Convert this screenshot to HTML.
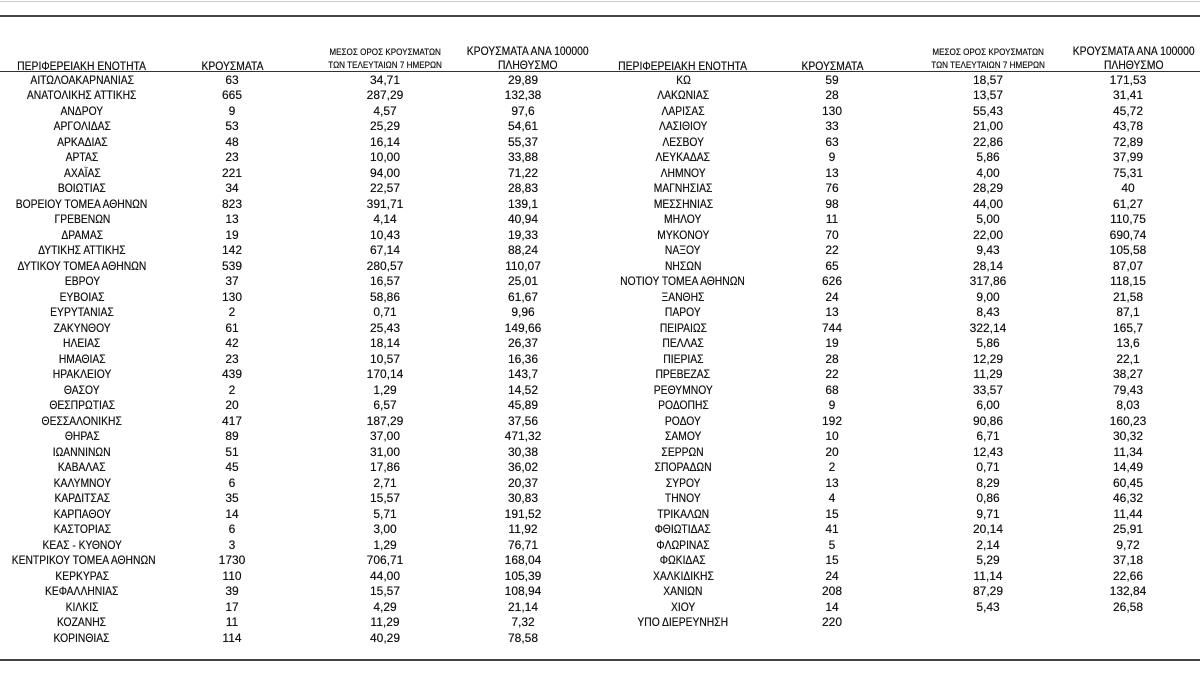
<!DOCTYPE html>
<html><head><meta charset="utf-8">
<style>
html,body{margin:0;padding:0;background:#fff;}
body{width:1200px;height:673px;position:relative;overflow:hidden;font-family:"Liberation Sans","DejaVu Sans",sans-serif;color:#111;}
.line{position:absolute;left:0;width:1200px;}
table{position:absolute;top:72.5px;border-collapse:collapse;table-layout:fixed;font-size:12px;}
td{padding:0;height:15.5px;line-height:15.5px;text-align:center;white-space:nowrap;overflow:visible;text-shadow:0 0 0.4px #333;}
td:first-child span{display:inline-block;transform:scaleX(0.86);}
.h{position:absolute;text-align:center;white-space:nowrap;color:#111;text-shadow:0 0 0.4px #333;}
.h span{display:inline-block;transform:scaleX(0.9);}
.s{font-size:9px;line-height:13px;}
.b{font-size:11.5px;line-height:14px;}
</style></head><body>
<div class="line" style="top:1px;height:1px;background:#ccc"></div>
<div class="line" style="top:15px;height:2px;background:#444"></div>
<div class="line" style="top:71px;height:1px;background:#333"></div>
<div class="line" style="top:659px;height:2px;background:#444"></div>

<div class="h b" style="left:0;width:164px;top:60px"><span>ΠΕΡΙΦΕΡΕΙΑΚΗ ΕΝΟΤΗΤΑ</span></div>
<div class="h b" style="left:164px;width:136px;top:60px"><span>ΚΡΟΥΣΜΑΤΑ</span></div>
<div class="h s" style="left:300px;width:170px;top:46px"><span>ΜΕΣΟΣ ΟΡΟΣ ΚΡΟΥΣΜΑΤΩΝ<br>ΤΩΝ ΤΕΛΕΥΤΑΙΩΝ 7 ΗΜΕΡΩΝ</span></div>
<div class="h b" style="left:460px;width:126px;top:45px"><span>ΚΡΟΥΣΜΑΤΑ ΑΝΑ 100000<br>ΠΛΗΘΥΣΜΟ</span></div>

<div class="h b" style="left:600px;width:166px;top:60px"><span>ΠΕΡΙΦΕΡΕΙΑΚΗ ΕΝΟΤΗΤΑ</span></div>
<div class="h b" style="left:766px;width:132px;top:60px"><span>ΚΡΟΥΣΜΑΤΑ</span></div>
<div class="h s" style="left:898px;width:180px;top:46px"><span>ΜΕΣΟΣ ΟΡΟΣ ΚΡΟΥΣΜΑΤΩΝ<br>ΤΩΝ ΤΕΛΕΥΤΑΙΩΝ 7 ΗΜΕΡΩΝ</span></div>
<div class="h b" style="left:1066px;width:124px;top:45px"><span>ΚΡΟΥΣΜΑΤΑ ΑΝΑ 100000<br>ΠΛΗΘΥΣΜΟ</span></div>

<table style="left:0;width:576px">
<colgroup><col style="width:164px"><col style="width:136px"><col style="width:170px"><col style="width:106px"></colgroup>
<tr><td><span>ΑΙΤΩΛΟΑΚΑΡΝΑΝΙΑΣ</span></td><td>63</td><td>34,71</td><td>29,89</td></tr>
<tr><td><span>ΑΝΑΤΟΛΙΚΗΣ ΑΤΤΙΚΗΣ</span></td><td>665</td><td>287,29</td><td>132,38</td></tr>
<tr><td><span>ΑΝΔΡΟΥ</span></td><td>9</td><td>4,57</td><td>97,6</td></tr>
<tr><td><span>ΑΡΓΟΛΙΔΑΣ</span></td><td>53</td><td>25,29</td><td>54,61</td></tr>
<tr><td><span>ΑΡΚΑΔΙΑΣ</span></td><td>48</td><td>16,14</td><td>55,37</td></tr>
<tr><td><span>ΑΡΤΑΣ</span></td><td>23</td><td>10,00</td><td>33,88</td></tr>
<tr><td><span>ΑΧΑΪΑΣ</span></td><td>221</td><td>94,00</td><td>71,22</td></tr>
<tr><td><span>ΒΟΙΩΤΙΑΣ</span></td><td>34</td><td>22,57</td><td>28,83</td></tr>
<tr><td><span>ΒΟΡΕΙΟΥ ΤΟΜΕΑ ΑΘΗΝΩΝ</span></td><td>823</td><td>391,71</td><td>139,1</td></tr>
<tr><td><span>ΓΡΕΒΕΝΩΝ</span></td><td>13</td><td>4,14</td><td>40,94</td></tr>
<tr><td><span>ΔΡΑΜΑΣ</span></td><td>19</td><td>10,43</td><td>19,33</td></tr>
<tr><td><span>ΔΥΤΙΚΗΣ ΑΤΤΙΚΗΣ</span></td><td>142</td><td>67,14</td><td>88,24</td></tr>
<tr><td><span>ΔΥΤΙΚΟΥ ΤΟΜΕΑ ΑΘΗΝΩΝ</span></td><td>539</td><td>280,57</td><td>110,07</td></tr>
<tr><td><span>ΕΒΡΟΥ</span></td><td>37</td><td>16,57</td><td>25,01</td></tr>
<tr><td><span>ΕΥΒΟΙΑΣ</span></td><td>130</td><td>58,86</td><td>61,67</td></tr>
<tr><td><span>ΕΥΡΥΤΑΝΙΑΣ</span></td><td>2</td><td>0,71</td><td>9,96</td></tr>
<tr><td><span>ΖΑΚΥΝΘΟΥ</span></td><td>61</td><td>25,43</td><td>149,66</td></tr>
<tr><td><span>ΗΛΕΙΑΣ</span></td><td>42</td><td>18,14</td><td>26,37</td></tr>
<tr><td><span>ΗΜΑΘΙΑΣ</span></td><td>23</td><td>10,57</td><td>16,36</td></tr>
<tr><td><span>ΗΡΑΚΛΕΙΟΥ</span></td><td>439</td><td>170,14</td><td>143,7</td></tr>
<tr><td><span>ΘΑΣΟΥ</span></td><td>2</td><td>1,29</td><td>14,52</td></tr>
<tr><td><span>ΘΕΣΠΡΩΤΙΑΣ</span></td><td>20</td><td>6,57</td><td>45,89</td></tr>
<tr><td><span>ΘΕΣΣΑΛΟΝΙΚΗΣ</span></td><td>417</td><td>187,29</td><td>37,56</td></tr>
<tr><td><span>ΘΗΡΑΣ</span></td><td>89</td><td>37,00</td><td>471,32</td></tr>
<tr><td><span>ΙΩΑΝΝΙΝΩΝ</span></td><td>51</td><td>31,00</td><td>30,38</td></tr>
<tr><td><span>ΚΑΒΑΛΑΣ</span></td><td>45</td><td>17,86</td><td>36,02</td></tr>
<tr><td><span>ΚΑΛΥΜΝΟΥ</span></td><td>6</td><td>2,71</td><td>20,37</td></tr>
<tr><td><span>ΚΑΡΔΙΤΣΑΣ</span></td><td>35</td><td>15,57</td><td>30,83</td></tr>
<tr><td><span>ΚΑΡΠΑΘΟΥ</span></td><td>14</td><td>5,71</td><td>191,52</td></tr>
<tr><td><span>ΚΑΣΤΟΡΙΑΣ</span></td><td>6</td><td>3,00</td><td>11,92</td></tr>
<tr><td><span>ΚΕΑΣ - ΚΥΘΝΟΥ</span></td><td>3</td><td>1,29</td><td>76,71</td></tr>
<tr><td><span>ΚΕΝΤΡΙΚΟΥ ΤΟΜΕΑ ΑΘΗΝΩΝ</span></td><td>1730</td><td>706,71</td><td>168,04</td></tr>
<tr><td><span>ΚΕΡΚΥΡΑΣ</span></td><td>110</td><td>44,00</td><td>105,39</td></tr>
<tr><td><span>ΚΕΦΑΛΛΗΝΙΑΣ</span></td><td>39</td><td>15,57</td><td>108,94</td></tr>
<tr><td><span>ΚΙΛΚΙΣ</span></td><td>17</td><td>4,29</td><td>21,14</td></tr>
<tr><td><span>ΚΟΖΑΝΗΣ</span></td><td>11</td><td>11,29</td><td>7,32</td></tr>
<tr><td><span>ΚΟΡΙΝΘΙΑΣ</span></td><td>114</td><td>40,29</td><td>78,58</td></tr>
</table>

<table style="left:600px;width:578px">
<colgroup><col style="width:166px"><col style="width:132px"><col style="width:180px"><col style="width:100px"></colgroup>
<tr><td><span>ΚΩ</span></td><td>59</td><td>18,57</td><td>171,53</td></tr>
<tr><td><span>ΛΑΚΩΝΙΑΣ</span></td><td>28</td><td>13,57</td><td>31,41</td></tr>
<tr><td><span>ΛΑΡΙΣΑΣ</span></td><td>130</td><td>55,43</td><td>45,72</td></tr>
<tr><td><span>ΛΑΣΙΘΙΟΥ</span></td><td>33</td><td>21,00</td><td>43,78</td></tr>
<tr><td><span>ΛΕΣΒΟΥ</span></td><td>63</td><td>22,86</td><td>72,89</td></tr>
<tr><td><span>ΛΕΥΚΑΔΑΣ</span></td><td>9</td><td>5,86</td><td>37,99</td></tr>
<tr><td><span>ΛΗΜΝΟΥ</span></td><td>13</td><td>4,00</td><td>75,31</td></tr>
<tr><td><span>ΜΑΓΝΗΣΙΑΣ</span></td><td>76</td><td>28,29</td><td>40</td></tr>
<tr><td><span>ΜΕΣΣΗΝΙΑΣ</span></td><td>98</td><td>44,00</td><td>61,27</td></tr>
<tr><td><span>ΜΗΛΟΥ</span></td><td>11</td><td>5,00</td><td>110,75</td></tr>
<tr><td><span>ΜΥΚΟΝΟΥ</span></td><td>70</td><td>22,00</td><td>690,74</td></tr>
<tr><td><span>ΝΑΞΟΥ</span></td><td>22</td><td>9,43</td><td>105,58</td></tr>
<tr><td><span>ΝΗΣΩΝ</span></td><td>65</td><td>28,14</td><td>87,07</td></tr>
<tr><td><span>ΝΟΤΙΟΥ ΤΟΜΕΑ ΑΘΗΝΩΝ</span></td><td>626</td><td>317,86</td><td>118,15</td></tr>
<tr><td><span>ΞΑΝΘΗΣ</span></td><td>24</td><td>9,00</td><td>21,58</td></tr>
<tr><td><span>ΠΑΡΟΥ</span></td><td>13</td><td>8,43</td><td>87,1</td></tr>
<tr><td><span>ΠΕΙΡΑΙΩΣ</span></td><td>744</td><td>322,14</td><td>165,7</td></tr>
<tr><td><span>ΠΕΛΛΑΣ</span></td><td>19</td><td>5,86</td><td>13,6</td></tr>
<tr><td><span>ΠΙΕΡΙΑΣ</span></td><td>28</td><td>12,29</td><td>22,1</td></tr>
<tr><td><span>ΠΡΕΒΕΖΑΣ</span></td><td>22</td><td>11,29</td><td>38,27</td></tr>
<tr><td><span>ΡΕΘΥΜΝΟΥ</span></td><td>68</td><td>33,57</td><td>79,43</td></tr>
<tr><td><span>ΡΟΔΟΠΗΣ</span></td><td>9</td><td>6,00</td><td>8,03</td></tr>
<tr><td><span>ΡΟΔΟΥ</span></td><td>192</td><td>90,86</td><td>160,23</td></tr>
<tr><td><span>ΣΑΜΟΥ</span></td><td>10</td><td>6,71</td><td>30,32</td></tr>
<tr><td><span>ΣΕΡΡΩΝ</span></td><td>20</td><td>12,43</td><td>11,34</td></tr>
<tr><td><span>ΣΠΟΡΑΔΩΝ</span></td><td>2</td><td>0,71</td><td>14,49</td></tr>
<tr><td><span>ΣΥΡΟΥ</span></td><td>13</td><td>8,29</td><td>60,45</td></tr>
<tr><td><span>ΤΗΝΟΥ</span></td><td>4</td><td>0,86</td><td>46,32</td></tr>
<tr><td><span>ΤΡΙΚΑΛΩΝ</span></td><td>15</td><td>9,71</td><td>11,44</td></tr>
<tr><td><span>ΦΘΙΩΤΙΔΑΣ</span></td><td>41</td><td>20,14</td><td>25,91</td></tr>
<tr><td><span>ΦΛΩΡΙΝΑΣ</span></td><td>5</td><td>2,14</td><td>9,72</td></tr>
<tr><td><span>ΦΩΚΙΔΑΣ</span></td><td>15</td><td>5,29</td><td>37,18</td></tr>
<tr><td><span>ΧΑΛΚΙΔΙΚΗΣ</span></td><td>24</td><td>11,14</td><td>22,66</td></tr>
<tr><td><span>ΧΑΝΙΩΝ</span></td><td>208</td><td>87,29</td><td>132,84</td></tr>
<tr><td><span>ΧΙΟΥ</span></td><td>14</td><td>5,43</td><td>26,58</td></tr>
<tr><td><span>ΥΠΟ ΔΙΕΡΕΥΝΗΣΗ</span></td><td>220</td><td></td><td></td></tr>
</table>
</body></html>
